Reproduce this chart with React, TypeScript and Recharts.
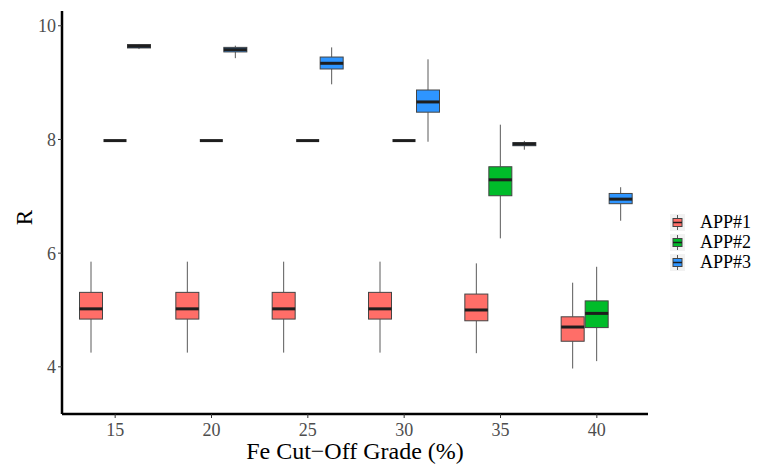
import { BarChart, Bar, XAxis, YAxis, Legend, Label } from 'recharts'

// cut-off grades on the x axis
const grades = ['15', '20', '25', '30', '35', '40']

// five-number summaries per grade: [min, q1, median, q3, max]
const app1 = [
  [4.25, 4.84, 5.02, 5.31, 5.85],
  [4.25, 4.84, 5.02, 5.31, 5.85],
  [4.25, 4.84, 5.02, 5.31, 5.85],
  [4.25, 4.84, 5.02, 5.31, 5.85],
  [4.24, 4.81, 5.0, 5.28, 5.82],
  [3.97, 4.45, 4.7, 4.88, 5.48],
]
const app2 = [
  [7.97, 7.98, 7.98, 7.98, 7.99],
  [7.97, 7.98, 7.98, 7.98, 7.99],
  [7.97, 7.98, 7.98, 7.98, 7.99],
  [7.97, 7.98, 7.98, 7.98, 7.99],
  [6.26, 7.01, 7.29, 7.52, 8.26],
  [4.1, 4.69, 4.94, 5.16, 5.76],
]
const app3 = [
  [9.59, 9.61, 9.64, 9.67, 9.68],
  [9.43, 9.54, 9.58, 9.62, 9.65],
  [8.97, 9.24, 9.34, 9.45, 9.62],
  [7.96, 8.48, 8.66, 8.87, 9.41],
  [7.82, 7.89, 7.92, 7.945, 7.975],
  [6.57, 6.87, 6.95, 7.05, 7.16],
]

const seriesNames = ['APP#1', 'APP#2', 'APP#3']
const seriesColors = ['#FF6E68', '#00BC2A', '#2E95FF']
const yTicks = [4, 6, 8, 10]

const chartData = grades.map((g, i) => ({ grade: g, APP1: app1[i], APP2: app2[i], APP3: app3[i] }))

const FONT = '"Liberation Serif", "Times New Roman", serif'

// draws a whole box plot inside the [min, max] range bar
const makeBox = (key: 'APP1' | 'APP2' | 'APP3', fill: string) => (props: any) => {
  const { x, y, width, height, payload } = props
  const [lo, q1, med, q3, hi] = payload[key]
  const span = hi - lo
  const py = (v: number) => (span > 0 ? y + (height * (hi - v)) / span : y)
  const cx = x + width / 2
  const bx = x + 0.5
  const bw = width - 1
  return (
    <g>
      <line x1={cx} x2={cx} y1={py(hi)} y2={py(q3)} stroke="#5a5a5a" strokeWidth={1} />
      <line x1={cx} x2={cx} y1={py(q1)} y2={py(lo)} stroke="#5a5a5a" strokeWidth={1} />
      <rect x={bx} y={py(q3)} width={bw} height={Math.max(py(q1) - py(q3), 0)} fill={fill} stroke="#444" strokeWidth={1} />
      <line x1={bx} x2={bx + bw} y1={py(med)} y2={py(med)} stroke="#1e1e1e" strokeWidth={3} />
    </g>
  )
}

const renderLegend = () => (
  <div style={{ fontFamily: FONT }}>
    {seriesNames.map((name, i) => (
      <div key={name} style={{ display: 'flex', alignItems: 'center', height: 20 }}>
        <svg width={15} height={17} style={{ marginRight: 15 }}>
          <rect x={0} y={0} width={15} height={17} fill="#f2f2f2" />
          <line x1={7.5} x2={7.5} y1={1} y2={16} stroke="#5a5a5a" strokeWidth={1} />
          <rect x={3} y={4.5} width={9} height={8} fill={seriesColors[i]} stroke="#444" strokeWidth={1} />
          <line x1={3} x2={12} y1={8.5} y2={8.5} stroke="#1e1e1e" strokeWidth={1.5} />
        </svg>
        <span style={{ fontSize: 18, color: '#000', lineHeight: '20px' }}>{name}</span>
      </div>
    ))}
  </div>
)

const App = () => {
  return (
    <div style={{ position: 'absolute', left: 0, top: 0 }}>
      <BarChart
        width={763}
        height={468}
        data={chartData}
        margin={{ top: 11, right: 115, bottom: 0, left: 0 }}
        barGap={0}
        barSize={24}
      >
        <XAxis
          dataKey="grade"
          height={54}
          padding={{ left: 5, right: 3 }}
          axisLine={{ stroke: '#000', strokeWidth: 2.5 }}
          tickLine={{ stroke: '#333', strokeWidth: 1 }}
          tickSize={4}
          tickMargin={5}
          tick={{ fill: '#4d4d4d', fontSize: 18, fontFamily: FONT }}
        >
          <Label
            value="Fe Cut−Off Grade (%)"
            position="insideBottom"
            offset={9}
            style={{ fill: '#000', fontSize: 24, fontFamily: FONT }}
          />
        </XAxis>
        <YAxis
          type="number"
          width={62}
          domain={[3.17, 10.26]}
          ticks={yTicks}
          allowDataOverflow
          axisLine={{ stroke: '#000', strokeWidth: 2.5 }}
          tickLine={{ stroke: '#333', strokeWidth: 1 }}
          tickSize={4}
          tickMargin={2}
          tick={{ fill: '#4d4d4d', fontSize: 18, fontFamily: FONT }}
        >
          <Label
            content={(p: any) => {
              const vb = p.viewBox || { x: 0, y: 11, height: 403 }
              const cy = vb.y + vb.height / 2 + 5
              return (
                <text x={32} y={cy} transform={`rotate(-90 32 ${cy})`} textAnchor="middle" fontSize={23} fontFamily={FONT} fill="#000">
                  R
                </text>
              )
            }}
          />
        </YAxis>
        <Legend
          layout="vertical"
          align="center"
          verticalAlign="middle"
          content={renderLegend}
          wrapperStyle={{ left: 670, top: 212, width: 93 }}
        />
        <Bar name={seriesNames[0]} dataKey={(d: any) => [d.APP1[0], d.APP1[4]]} fill={seriesColors[0]} shape={makeBox('APP1', seriesColors[0])} isAnimationActive={false} />
        <Bar name={seriesNames[1]} dataKey={(d: any) => [d.APP2[0], d.APP2[4]]} fill={seriesColors[1]} shape={makeBox('APP2', seriesColors[1])} isAnimationActive={false} />
        <Bar name={seriesNames[2]} dataKey={(d: any) => [d.APP3[0], d.APP3[4]]} fill={seriesColors[2]} shape={makeBox('APP3', seriesColors[2])} isAnimationActive={false} />
      </BarChart>
    </div>
  )
}

export default App
